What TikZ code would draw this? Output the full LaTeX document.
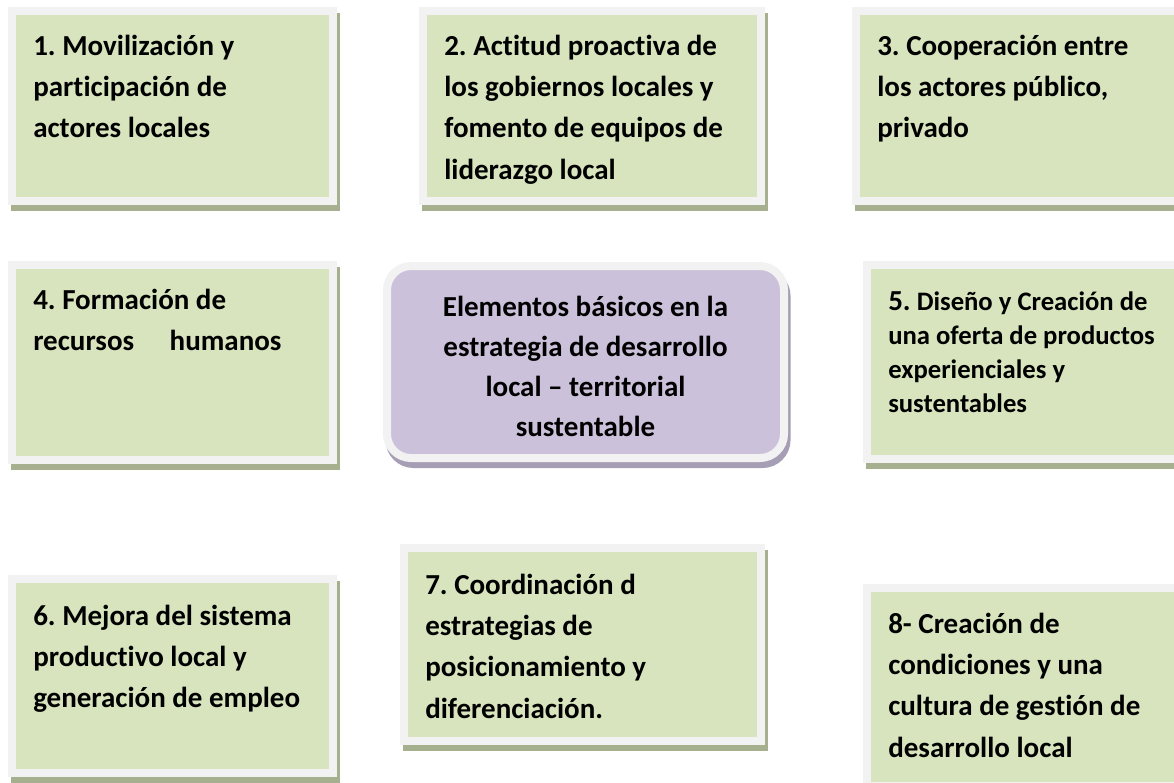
\documentclass[tikz,border=0pt]{standalone}
\usepackage{fontspec}
\setmainfont{Carlito}[Ligatures=NoCommon]
\frenchspacing

\definecolor{boxgreen}{RGB}{215,228,189}
\definecolor{boxrim}{RGB}{242,242,242}
\definecolor{greenshade}{RGB}{166,176,142}
\definecolor{boxlilac}{RGB}{204,193,218}
\definecolor{lilacshade}{RGB}{165,158,180}

\begin{document}
\begin{tikzpicture}[x=0.75pt,y=0.75pt,yscale=-1,xscale=1,
  greenbox/.style={draw=boxrim, fill=boxgreen, line width=6pt, inner sep=0pt,
    preaction={draw=greenshade, fill=greenshade, line width=6pt, transform canvas={shift={(1.9pt,-4.5pt)}}}},
  lilacbox/.style={draw=boxrim, fill=boxlilac, line width=6pt, rounded corners=18pt, inner sep=0pt,
    preaction={draw=lilacshade, fill=lilacshade, line width=6pt, transform canvas={shift={(1.9pt,-4.5pt)}}}},
  boxtext/.style={anchor=north west, inner sep=0pt, align=left, font=\bfseries\fontsize{21.75}{31}\selectfont}]
\useasboundingbox (0,0) rectangle (1174,782);

%Shape: Rectangle
\node[greenbox, minimum width=240.75pt, minimum height=142.5pt] (b1) at (172.5,106) {};
%Shape: Rectangle
\node[greenbox, minimum width=253.5pt, minimum height=142.5pt] (b2) at (592,106) {};
%Shape: Rectangle
\node[greenbox, minimum width=241.5pt, minimum height=142.5pt] (b3) at (1017,106) {};
%Shape: Rectangle
\node[greenbox, minimum width=240.75pt, minimum height=146.25pt] (b4) at (172.5,362.5) {};
%Rounded Rect
\node[lilacbox, minimum width=297.75pt, minimum height=144pt] (core) at (585.5,362) {};
%Shape: Rectangle
\node[greenbox, minimum width=233.25pt, minimum height=145.5pt] (b5) at (1022.5,362) {};
%Shape: Rectangle
\node[greenbox, minimum width=240.75pt, minimum height=145.5pt] (b6) at (172.5,676) {};
%Shape: Rectangle
\node[greenbox, minimum width=267.75pt, minimum height=144.75pt] (b7) at (582.5,644.5) {};
%Shape: Rectangle
\node[greenbox, minimum width=233.25pt, minimum height=148.5pt] (b8) at (1022.5,687) {};

% Text Node
\node[boxtext] (t1) at ([shift={(25,19)}]b1.north west) {\strut 1. Movilización y\\participación de\\actores locales};
% Text Node
\node[boxtext] (t2) at ([shift={(25,19)}]b2.north west) {\strut 2. Actitud proactiva de\\los gobiernos locales y\\fomento de equipos de\\liderazgo local};
% Text Node
\node[boxtext] (t3) at ([shift={(25,19)}]b3.north west) {\strut 3. Cooperación entre\\los actores público,\\privado};
% Text Node
\node[boxtext] (t4) at ([shift={(25,19)}]b4.north west) {\strut 4. Formación de\\recursos\hspace{1em} humanos};
% Text Node
\node[boxtext, anchor=center, align=center, font=\bfseries\fontsize{21.75}{30}\selectfont] (tc) at ([shift={(0,6)}]core.center) {\strut Elementos básicos en la\\estrategia de desarrollo\\local – territorial\\sustentable\strut};
% Text Node
\node[boxtext, font=\bfseries\fontsize{20}{25.5}\selectfont] (t5) at ([shift={(25,25)}]b5.north west) {\strut{\fontsize{21.75}{25.5}\selectfont 5.} Diseño y Creación de\\una oferta de productos\\experienciales y\\sustentables};
% Text Node
\node[boxtext] (t6) at ([shift={(25,21)}]b6.north west) {\strut 6. Mejora del sistema\\productivo local y\\generación de empleo};
% Text Node
\node[boxtext] (t7) at ([shift={(25,21)}]b7.north west) {\strut 7. Coordinación d\\estrategias de\\posicionamiento y\\diferenciación.};
% Text Node
\node[boxtext] (t8) at ([shift={(25,20)}]b8.north west) {\strut 8- Creación de\\condiciones y una\\cultura de gestión de\\desarrollo local};

\end{tikzpicture}
\end{document}
